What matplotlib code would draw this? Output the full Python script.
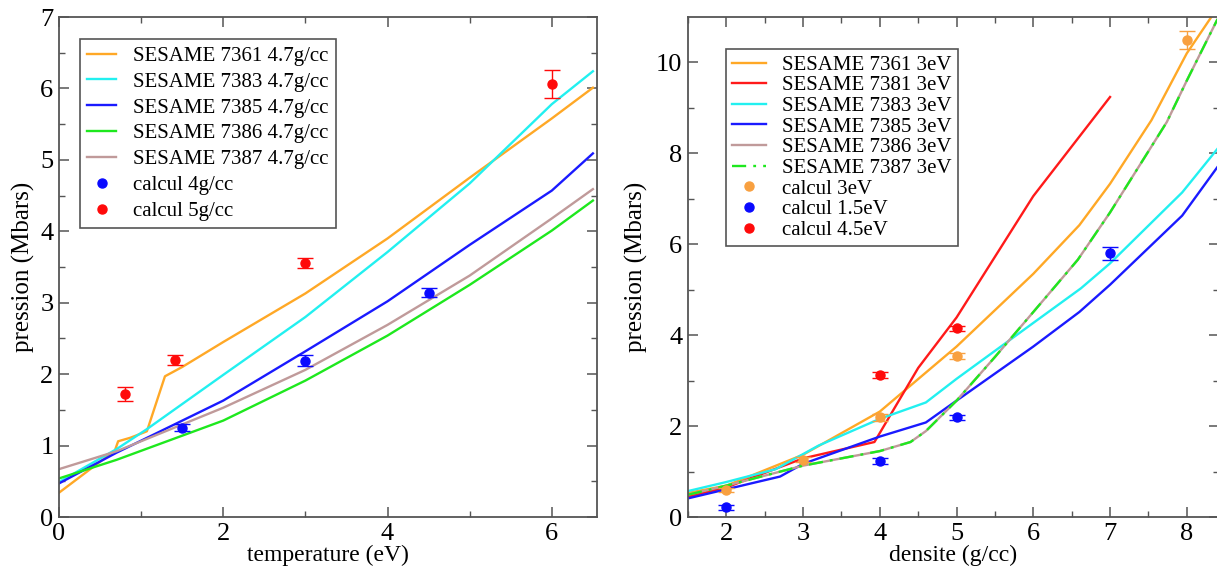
import numpy as np
from matplotlib import pyplot as plt

# left panel: pression vs temperature at 4.7 g/cc
t_7361 = [0, 0.68, 0.72, 0.87, 1.07, 1.29, 1.5, 2, 3, 4, 5, 6, 6.5]
p_7361 = [0.34, 0.93, 1.06, 1.11, 1.2, 1.97, 2.1, 2.45, 3.13, 3.9, 4.75, 5.58, 6.01]
t_7383 = [0, 0.7, 1.07, 2, 3, 4, 5, 6, 6.5]
p_7383 = [0.49, 0.95, 1.23, 1.99, 2.8, 3.71, 4.67, 5.78, 6.24]
t_7385 = [0, 0.7, 2, 3, 4, 5, 6, 6.5]
p_7385 = [0.47, 0.9, 1.63, 2.32, 3.02, 3.81, 4.57, 5.09]
t_7386 = [0, 0.7, 2, 3, 4, 5, 6, 6.5]
p_7386 = [0.54, 0.8, 1.35, 1.91, 2.54, 3.25, 4.01, 4.43]
t_7387 = [0, 0.7, 2, 3, 4, 5, 6, 6.5]
p_7387 = [0.67, 0.92, 1.53, 2.06, 2.69, 3.38, 4.18, 4.59]

t_calc4 = [1.5, 3, 4.5]
p_calc4 = [1.25, 2.19, 3.14]
e_calc4 = [0.05, 0.08, 0.06]
t_calc5 = [0.8, 1.41, 3, 6]
p_calc5 = [1.72, 2.2, 3.55, 6.06]
e_calc5 = [0.1, 0.07, 0.07, 0.2]

# right panel: pression vs densite at 3 eV
d_7361 = [1.5, 2, 3, 4, 5, 6, 6.6, 7, 7.54, 8, 8.4]
q_7361 = [0.53, 0.69, 1.37, 2.32, 3.75, 5.35, 6.42, 7.33, 8.73, 10.2, 11.2]
d_7381 = [1.5, 2, 3, 3.93, 4.5, 5, 6, 7]
q_7381 = [0.45, 0.65, 1.29, 1.65, 3.28, 4.39, 7.06, 9.24]
d_7383 = [1.5, 2, 2.64, 3.2, 4, 4.6, 5, 6, 6.62, 7, 7.94, 8.4]
q_7383 = [0.57, 0.77, 1.05, 1.57, 2.16, 2.52, 3.04, 4.27, 5.03, 5.58, 7.14, 8.1]
d_7385 = [1.5, 2, 2.7, 3, 4, 4.6, 5, 6, 6.6, 7, 7.94, 8.4]
q_7385 = [0.41, 0.61, 0.89, 1.17, 1.77, 2.08, 2.56, 3.75, 4.51, 5.11, 6.63, 7.7]
d_7386 = [1.5, 2, 3, 4, 4.4, 4.6, 5, 5.5, 6, 6.58, 7, 7.74, 8, 8.4]
q_7386 = [0.49, 0.69, 1.13, 1.45, 1.65, 1.89, 2.56, 3.52, 4.51, 5.66, 6.7, 8.69, 9.6, 10.95]
d_7387 = d_7386
q_7387 = q_7386

d_c3 = [2, 3, 4, 5, 8]
q_c3 = [0.6, 1.26, 2.19, 3.54, 10.49]
e_c3 = [0.04, 0.05, 0.07, 0.07, 0.2]
d_c15 = [2, 4, 5, 7]
q_c15 = [0.21, 1.23, 2.19, 5.8]
e_c15 = [0.05, 0.06, 0.06, 0.15]
d_c45 = [4, 5]
q_c45 = [3.12, 4.15]
e_c45 = [0.06, 0.06]

plt.rcParams['font.family'] = ['Liberation Serif', 'DejaVu Serif']
plt.rcParams['font.size'] = 15

ORANGE = '#ffa826'
CYAN = '#22f0f0'
BLUE = '#1a1aff'
GREEN = '#1ee81e'
BROWN = '#c09a9a'
RED = '#ff1a1a'
lw = 1.7

def style_axes(ax):
    for s in ax.spines.values():
        s.set_color('#555555')
        s.set_linewidth(1.3)
    ax.tick_params(which='both', direction='in', top=True, right=True,
                   color='#555555', labelsize=19)
    ax.tick_params(which='major', length=7, width=1.1, pad=4)
    ax.tick_params(which='minor', length=4, width=1.0)

def points(ax, x, y, e, color, label):
    ax.errorbar(x, y, yerr=e, fmt='none', ecolor=color, elinewidth=1.0,
                capsize=6, capthick=1.0, zorder=5)
    ax.plot(x, y, 'o', color=color, ms=6.5, label=label, zorder=6)

fig = plt.figure(figsize=(12.17, 5.66), dpi=100)

ax1 = fig.add_axes([59/1217, 49/566, 538/1217, 500/566])
ax1.plot(t_7361, p_7361, color=ORANGE, lw=lw, label='SESAME 7361 4.7g/cc')
ax1.plot(t_7383, p_7383, color=CYAN, lw=lw, label='SESAME 7383 4.7g/cc')
ax1.plot(t_7385, p_7385, color=BLUE, lw=lw, label='SESAME 7385 4.7g/cc')
ax1.plot(t_7386, p_7386, color=GREEN, lw=lw, label='SESAME 7386 4.7g/cc')
ax1.plot(t_7387, p_7387, color=BROWN, lw=lw, label='SESAME 7387 4.7g/cc')
points(ax1, t_calc4, p_calc4, e_calc4, '#0a0aff', 'calcul 4g/cc')
points(ax1, t_calc5, p_calc5, e_calc5, '#ff0a0a', 'calcul 5g/cc')
ax1.set_xlim(0, 6.55)
ax1.set_ylim(0, 7)
ax1.set_xticks([0, 2, 4, 6])
ax1.set_xticks([1, 3, 5], minor=True)
ax1.set_yticks(range(8))
ax1.set_yticks(np.arange(0.5, 7, 1), minor=True)
ax1.set_xlabel('temperature (eV)', fontsize=17, labelpad=0)
ax1.set_ylabel('pression (Mbars)', fontsize=18, labelpad=4)
style_axes(ax1)
leg = ax1.legend(loc='upper left', bbox_to_anchor=(0.039, 0.956),
                 fancybox=False, framealpha=1, edgecolor='#555555',
                 handlelength=1.4, handletextpad=0.8, labelspacing=0.3,
                 borderpad=0.35, borderaxespad=0, fontsize=15)
leg.get_frame().set_linewidth(1.2)

ax2 = fig.add_axes([688/1217, 49/566, 531/1217, 500/566])
ax2.plot(d_7361, q_7361, color=ORANGE, lw=lw, label='SESAME 7361 3eV')
ax2.plot(d_7381, q_7381, color=RED, lw=lw, label='SESAME 7381 3eV')
ax2.plot(d_7383, q_7383, color=CYAN, lw=lw, label='SESAME 7383 3eV')
ax2.plot(d_7385, q_7385, color=BLUE, lw=lw, label='SESAME 7385 3eV')
ax2.plot(d_7386, q_7386, color=BROWN, lw=lw, label='SESAME 7386 3eV')
ax2.plot(d_7387, q_7387, color=GREEN, lw=lw, ls=(0, (6, 3, 1.2, 3)),
         label='SESAME 7387 3eV')
points(ax2, d_c3, q_c3, e_c3, '#f8a040', 'calcul 3eV')
points(ax2, d_c15, q_c15, e_c15, '#0a0aff', 'calcul 1.5eV')
points(ax2, d_c45, q_c45, e_c45, '#ff0a0a', 'calcul 4.5eV')
ax2.set_xlim(1.5, 8.42)
ax2.set_ylim(0, 11)
ax2.set_xticks(range(2, 9))
ax2.set_xticks(np.arange(1.5, 8.5, 1), minor=True)
ax2.set_yticks(range(0, 11, 2))
ax2.set_yticks(range(1, 11, 2), minor=True)
ax2.set_xlabel('densite (g/cc)', fontsize=17, labelpad=0)
ax2.set_ylabel('pression (Mbars)', fontsize=18, labelpad=6)
style_axes(ax2)
leg = ax2.legend(loc='upper left', bbox_to_anchor=(0.072, 0.936),
                 fancybox=False, framealpha=1, edgecolor='#555555',
                 handlelength=1.6, handletextpad=0.8, labelspacing=0.05,
                 borderpad=0.3, borderaxespad=0, fontsize=15)
leg.get_frame().set_linewidth(1.2)

fig.savefig('out.png', dpi=100)
